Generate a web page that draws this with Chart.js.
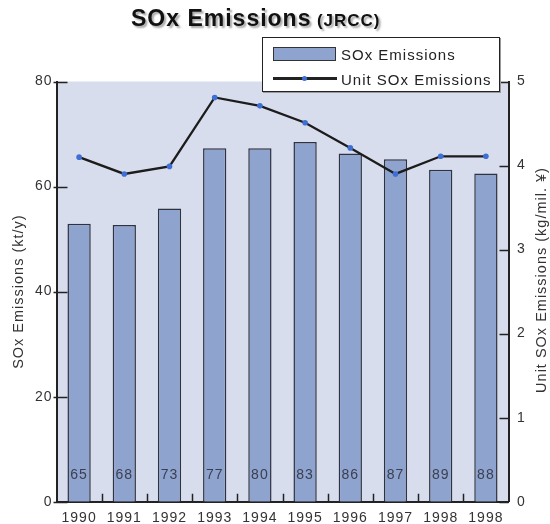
<!DOCTYPE html>
<html>
<head>
<meta charset="utf-8">
<script src="https://cdn.jsdelivr.net/npm/chart.js@4/dist/chart.umd.min.js"></script>
<style>
  body { margin: 0; background: #fff; }
  #wrap { position: relative; width: 550px; height: 524px; font-family: "Liberation Sans", Arial, sans-serif; }
  #title { position: absolute; left: 131px; top: 7px; white-space: nowrap; font-weight: bold; color: #111;
           text-shadow: 2px 2px 2px rgba(0,0,0,0.35); letter-spacing: 1px; line-height: 23px; }
  #title .main { font-size: 23px; }
  #title .sub { font-size: 17px; }
  #legend { position: absolute; left: 262px; top: 37px; width: 236px; height: 53px; background: #fff;
            border: 1px solid #222; box-shadow: 1px 1px 0 #999; font-size: 15px; letter-spacing: 1px; color: #222; }
  #legend .sw-bar { position: absolute; left: 10px; top: 9px; width: 61px; height: 12px; background: #8fa3cf; border: 1.5px solid #333; }
  #legend .sw-line { position: absolute; left: 10px; top: 39px; width: 64px; height: 2.5px; background: #222; }
  #legend .sw-dot { position: absolute; left: 39px; top: 37.5px; width: 5px; height: 5px; border-radius: 50%; background: #3d6fd4; }
  #legend .txt { position: absolute; left: 78px; line-height: 15px; white-space: nowrap; }
</style>
</head>
<body>
<div id="wrap">
  <canvas id="chart" width="550" height="524"></canvas>
  <div id="title"><span class="main">SOx Emissions</span> <span class="sub">(JRCC)</span></div>
  <div id="legend">
    <div class="sw-bar"></div><div class="txt" style="top:9px">SOx Emissions</div>
    <div class="sw-line"></div><div class="sw-dot"></div><div class="txt" style="top:34px">Unit SOx Emissions</div>
  </div>
</div>
<script>
// data
const years = ['1990', '1991', '1992', '1993', '1994', '1995', '1996', '1997', '1998', '1998'];
const soxEmissions = [52.9, 52.7, 55.8, 67.3, 67.3, 68.5, 66.3, 65.2, 63.2, 62.5];   // kt/y
const unitSox = [4.10, 3.90, 3.99, 4.81, 4.71, 4.51, 4.21, 3.90, 4.11, 4.11];        // kg/mil. yen
const barLabels = [65, 68, 73, 77, 80, 83, 86, 87, 89, 88];
const leftTicks = [0, 20, 40, 60, 80];
const rightTicks = [0, 1, 2, 3, 4, 5];

const FONT = '"Liberation Sans", Arial, sans-serif';

// plot background, inward tick marks, labels inside bars, right axis title
const decor = {
  id: 'decor',
  beforeLayout(chart) { chart.ctx.letterSpacing = '1px'; },
  beforeDraw(chart) {
    const { ctx, chartArea: a } = chart;
    ctx.letterSpacing = '1px';
    ctx.save();
    ctx.fillStyle = '#d8ddee';
    ctx.fillRect(a.left, a.top, a.right - a.left, a.bottom - a.top);
    ctx.restore();
  },
  afterDatasetsDraw(chart) {
    const { ctx } = chart;
    const bars = chart.getDatasetMeta(1).data;
    const y = chart.scales.y.getPixelForValue(5);
    ctx.save();
    ctx.font = '14px ' + FONT;
    ctx.fillStyle = '#3a3f4f';
    ctx.textAlign = 'center';
    ctx.textBaseline = 'middle';
    bars.forEach((b, i) => ctx.fillText(String(barLabels[i]), b.x, y));
    ctx.restore();
  },
  afterDraw(chart) {
    const { ctx, chartArea: a, scales } = chart;
    ctx.save();
    ctx.strokeStyle = '#222';
    ctx.lineWidth = 1.5;
    ctx.beginPath();
    leftTicks.forEach(v => {
      const y = Math.round(scales.y.getPixelForValue(v)) + 0.5;
      ctx.moveTo(a.left - 3, y); ctx.lineTo(a.left + 11, y);
    });
    rightTicks.forEach(v => {
      const y = Math.round(scales.y1.getPixelForValue(v)) + 0.5;
      ctx.moveTo(a.right - 9, y); ctx.lineTo(a.right, y);
    });
    const bars = chart.getDatasetMeta(1).data;
    for (let i = 0; i < bars.length - 1; i++) {
      const x = Math.round((bars[i].x + bars[i + 1].x) / 2) + 0.5;
      ctx.moveTo(x, a.bottom); ctx.lineTo(x, a.bottom - 8);
    }
    ctx.stroke();
    // right axis title reads bottom to top
    ctx.translate(542, 280);
    ctx.rotate(-Math.PI / 2);
    ctx.font = '14.5px ' + FONT;
    ctx.fillStyle = '#333';
    ctx.textAlign = 'center';
    ctx.textBaseline = 'middle';
    ctx.fillText('Unit SOx Emissions (kg/mil. \u00a5)', 0, 0);
    ctx.restore();
  }
};

new Chart(document.getElementById('chart'), {
  data: {
    labels: years,
    datasets: [{
      type: 'line',
      label: 'Unit SOx Emissions',
      data: unitSox,
      yAxisID: 'y1',
      borderColor: '#1c1c1c',
      borderWidth: 2.3,
      pointRadius: 2.8,
      pointBackgroundColor: '#3d6fd4',
      pointBorderWidth: 0,
      tension: 0,
      order: 0
    }, {
      type: 'bar',
      label: 'SOx Emissions',
      data: soxEmissions,
      yAxisID: 'y',
      backgroundColor: '#8fa3cf',
      borderColor: '#2e3340',
      borderWidth: { top: 1.5, left: 1.5, right: 1.5, bottom: 0 },
      borderSkipped: false,
      categoryPercentage: 1,
      barPercentage: 0.515,
      order: 1
    }]
  },
  options: {
    responsive: false,
    animation: false,
    layout: { padding: { top: 81.5, left: 0, right: 0, bottom: 0 } },
    plugins: { legend: { display: false }, tooltip: { enabled: false } },
    scales: {
      x: {
        grid: { display: false, drawTicks: false },
        border: { color: '#222', width: 2 },
        ticks: { color: '#333', font: { family: FONT, size: 14 }, padding: 8, maxRotation: 0, autoSkip: false },
        afterFit(s) { s.height = 22.3; }
      },
      y: {
        position: 'left',
        min: 0, max: 80,
        grid: { display: false, drawTicks: false },
        border: { color: '#222', width: 2 },
        ticks: { stepSize: 20, color: '#333', font: { family: FONT, size: 14 }, padding: 4 },
        title: { display: true, text: 'SOx Emissions (kt/y)', color: '#333', font: { family: FONT, size: 14.5 }, padding: { top: 10, bottom: 0 } },
        afterFit(s) { s.width = 56.5; }
      },
      y1: {
        position: 'right',
        min: 0, max: 5,
        grid: { display: false, drawTicks: false },
        border: { color: '#222', width: 2 },
        ticks: { stepSize: 1, color: '#333', font: { family: FONT, size: 14 }, padding: 8.5 },
        afterFit(s) { s.width = 41.5; }
      }
    }
  },
  plugins: [decor]
});
</script>
</body>
</html>
